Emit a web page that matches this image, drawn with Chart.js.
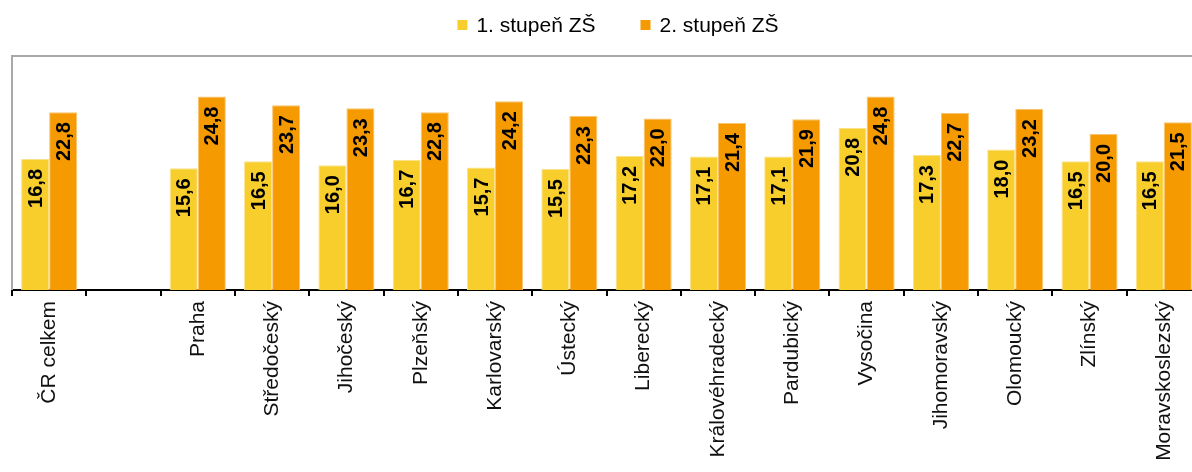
<!DOCTYPE html>
<html lang="cs">
<head>
<meta charset="utf-8">
<title>1. a 2. stupeň ZŠ podle krajů</title>
<script src="https://cdn.jsdelivr.net/npm/chart.js@4"></script>
<style>
  html, body { margin: 0; padding: 0; background: #fff; overflow: hidden; }
  #obal { position: relative; width: 1215px; height: 472px; }
</style>
</head>
<body>
<div id="obal"><canvas id="graf"></canvas></div>
<script>
// Kraje (druhá pozice je prázdná mezera za ČR celkem)
const kraje = [
  "ČR celkem", "", "Praha", "Středočeský", "Jihočeský", "Plzeňský",
  "Karlovarský", "Ústecký", "Liberecký", "Královéhradecký", "Pardubický",
  "Vysočina", "Jihomoravský", "Olomoucký", "Zlínský", "Moravskoslezský",
];
const nazvyRad = ["1. stupeň ZŠ", "2. stupeň ZŠ"];
const stupen1 = [16.8, null, 15.6, 16.5, 16.0, 16.7, 15.7, 15.5, 17.2, 17.1, 17.1, 20.8, 17.3, 18.0, 16.5, 16.5];
const stupen2 = [22.8, null, 24.8, 23.7, 23.3, 22.8, 24.2, 22.3, 22.0, 21.4, 21.9, 24.8, 22.7, 23.2, 20.0, 21.5];
const osaY = { min: 0, max: 30 };

const BARVY = ["#F7CE2B", "#F59A00"];
const OKRAJE = ["#FBE28A", "#F9C46E"];
const PISMO = "'Liberation Sans', Arial, sans-serif";

const fmt = (v) => v.toFixed(1).replace(".", ",");

// Rámeček grafu: šedá levá a horní hrana
const ramecek = {
  id: "ramecek",
  beforeDatasetsDraw(chart) {
    const { ctx, chartArea: a } = chart;
    ctx.save();
    ctx.strokeStyle = "#A8A8A8";
    ctx.lineWidth = 2;
    ctx.beginPath();
    ctx.moveTo(a.left, a.bottom);
    ctx.lineTo(a.left, a.top);
    ctx.lineTo(a.right + 20, a.top);
    ctx.stroke();
    ctx.restore();
  },
};

// Svislé popisky hodnot uvnitř sloupců
const popisky = {
  id: "popisky",
  afterDatasetsDraw(chart) {
    const { ctx } = chart;
    ctx.save();
    ctx.font = "bold 20px " + PISMO;
    ctx.fillStyle = "#000";
    ctx.textAlign = "right";
    ctx.textBaseline = "middle";
    chart.data.datasets.forEach((ds, i) => {
      chart.getDatasetMeta(i).data.forEach((bar, j) => {
        const v = ds.data[j];
        if (v == null) return;
        ctx.save();
        ctx.translate(bar.x + 1, bar.y + 10);
        ctx.rotate(-Math.PI / 2);
        ctx.fillText(fmt(v), 0, 0);
        ctx.restore();
      });
    });
    ctx.restore();
  },
};

// Legenda nahoře uprostřed
const legenda = {
  id: "legenda",
  afterDraw(chart) {
    const { ctx } = chart;
    ctx.save();
    ctx.font = "21px " + PISMO;
    ctx.textBaseline = "middle";
    ctx.fillStyle = "#000";
    const ctverec = 10, mezera = 9, rozestup = 45;
    const sirky = chart.data.datasets.map((ds) => ctverec + mezera + ctx.measureText(ds.label).width);
    const celkem = sirky.reduce((a, b) => a + b, 0) + rozestup * (sirky.length - 1);
    let x = 618 - celkem / 2;
    const y = 25;
    chart.data.datasets.forEach((ds, i) => {
      ctx.fillStyle = ds.backgroundColor;
      ctx.fillRect(x, y - ctverec / 2, ctverec, ctverec);
      ctx.fillStyle = "#000";
      ctx.fillText(ds.label, x + ctverec + mezera, y + 1);
      x += sirky[i] + rozestup;
    });
    ctx.restore();
  },
};

new Chart(document.getElementById("graf"), {
  type: "bar",
  data: {
    labels: kraje,
    datasets: [
      { label: nazvyRad[0], data: stupen1, backgroundColor: BARVY[0], borderColor: OKRAJE[0], borderWidth: 1 },
      { label: nazvyRad[1], data: stupen2, backgroundColor: BARVY[1], borderColor: OKRAJE[1], borderWidth: 1 },
    ],
  },
  options: {
    responsive: true,
    maintainAspectRatio: false,
    animation: false,
    layout: { padding: { top: 56, left: 12, right: 14, bottom: 0 } },
    datasets: { bar: { barPercentage: 1, categoryPercentage: 0.755 } },
    plugins: {
      legend: { display: false },
      tooltip: { enabled: false },
    },
    scales: {
      x: {
        offset: true,
        afterFit: (osa) => { osa.height = 182; },
        border: { color: "#000", width: 2 },
        grid: { offset: true, drawOnChartArea: false, drawTicks: true, tickLength: 6, color: "#000", lineWidth: 2 },
        ticks: {
          autoSkip: false,
          minRotation: 90,
          maxRotation: 90,
          padding: 5,
          color: "#111",
          font: { family: PISMO, size: 21 },
        },
      },
      y: {
        display: false,
        min: osaY.min,
        max: osaY.max,
      },
    },
  },
  plugins: [ramecek, popisky, legenda],
});
</script>
</body>
</html>
